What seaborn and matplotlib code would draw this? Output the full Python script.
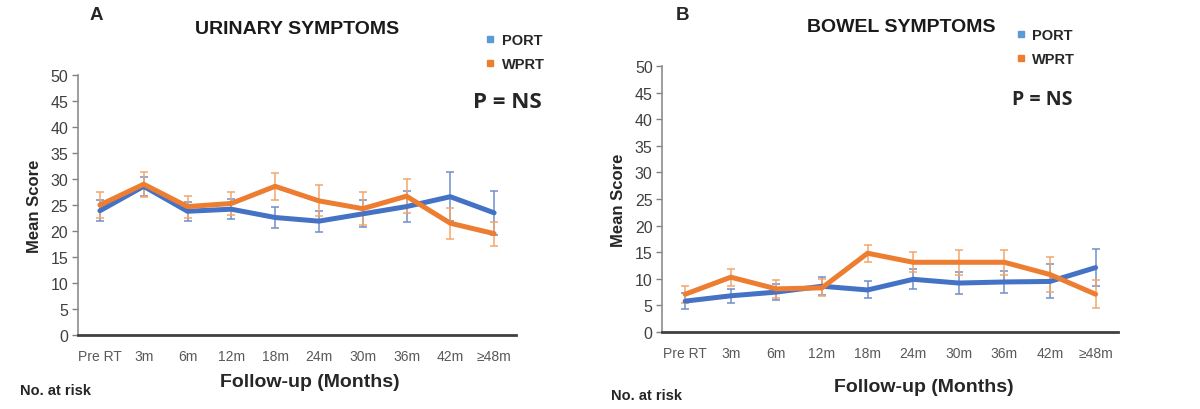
import pandas as pd
import matplotlib.pyplot as plt
import seaborn as sns
import numpy as np
from matplotlib.lines import Line2D
from matplotlib import font_manager

# Categorías del eje x
visits = ['Pre RT', '3m', '6m', '12m', '18m', '24m', '30m', '36m', '42m', '≥48m']

# Síntomas urinarios (media y error)
uri_port = [23.9, 28.6, 23.8, 24.2, 22.6, 21.9, 23.3, 24.7, 26.6, 23.5]
uri_port_err = [2.0, 1.8, 1.8, 1.9, 2.0, 2.0, 2.6, 3.0, 4.7, 4.2]
uri_wprt = [25.0, 29.0, 24.7, 25.3, 28.6, 25.8, 24.3, 26.7, 21.5, 19.5]
uri_wprt_err = [2.5, 2.4, 2.1, 2.2, 2.6, 3.0, 3.2, 3.3, 3.0, 2.3]

# Síntomas intestinales (media y error)
bow_port = [5.8, 6.8, 7.5, 8.6, 7.9, 9.9, 9.2, 9.4, 9.5, 12.1]
bow_port_err = [1.5, 1.3, 1.5, 1.7, 1.6, 1.9, 2.1, 2.1, 3.2, 3.5]
bow_wprt = [7.1, 10.3, 8.1, 8.3, 14.8, 13.1, 13.1, 13.1, 10.8, 7.1]
bow_wprt_err = [1.6, 1.6, 1.7, 1.6, 1.6, 1.9, 2.4, 2.4, 3.3, 2.6]

groups = ['PORT', 'WPRT']
line_colors = {'PORT': '#4472C4', 'WPRT': '#ED7D31'}
err_colors = {'PORT': '#6F8FCB', 'WPRT': '#F2A66C'}
legend_colors = {'PORT': '#5B9BD5', 'WPRT': '#ED7D31'}

sns.set_style('white')
plt.rcParams['font.family'] = ['Liberation Sans', 'DejaVu Sans']

# fuente estrecha para las etiquetas del eje x, si existe
installed = {f.name for f in font_manager.fontManager.ttflist}
narrow = 'Liberation Sans Narrow' if 'Liberation Sans Narrow' in installed else 'Liberation Sans'
xtick_size = 11.5 if narrow == 'Liberation Sans Narrow' else 10

fig = plt.figure(figsize=(12, 4.1), dpi=100)
ax_a = fig.add_axes([0.065, 0.1805, 0.365, 0.634])
ax_b = fig.add_axes([0.552, 0.1878, 0.380, 0.649])


def draw_panel(ax, port, port_err, wprt, wprt_err):
    df = pd.DataFrame({
        'pos': list(range(len(visits))) * 2,
        'score': port + wprt,
        'err': port_err + wprt_err,
        'group': ['PORT'] * len(visits) + ['WPRT'] * len(visits),
    })
    # barras de error primero, debajo de las líneas
    for g in groups:
        sub = df[df['group'] == g]
        ax.errorbar(sub['pos'], sub['score'], yerr=sub['err'], fmt='none',
                    ecolor=err_colors[g], elinewidth=1.1, capsize=3, capthick=1.1,
                    zorder=2)
    sns.lineplot(data=df, x='pos', y='score', hue='group', palette=line_colors,
                 linewidth=3.6, legend=False, ax=ax, zorder=3, sort=False)
    ax.set_xlim(-0.5, len(visits) - 0.5)
    ax.set_ylim(0, 50)
    ax.set_yticks(np.arange(0, 51, 5))
    ax.set_xticks(range(len(visits)))
    ax.set_xticklabels(visits, fontsize=xtick_size, color='#595959', family=narrow)
    ax.tick_params(axis='y', labelsize=11.5, colors='#404040', length=4,
                   width=1, direction='out', left=True, color='#808080', pad=3)
    ax.tick_params(axis='x', length=0, pad=10)
    for s in ['top', 'right']:
        ax.spines[s].set_visible(False)
    ax.spines['left'].set_color('#8c8c8c')
    ax.spines['left'].set_linewidth(1.2)
    ax.spines['bottom'].set_color('#404040')
    ax.spines['bottom'].set_linewidth(2)
    ax.set_xlabel('')
    ax.set_ylabel('Mean Score', fontsize=12, fontweight='bold', labelpad=6)


draw_panel(ax_a, uri_port, uri_port_err, uri_wprt, uri_wprt_err)
draw_panel(ax_b, bow_port, bow_port_err, bow_wprt, bow_wprt_err)

# Títulos y letras de panel
fig.text(0.080, 0.963, 'A', fontsize=13.5, fontweight='bold', ha='center', va='center')
fig.text(0.2475, 0.927, 'URINARY SYMPTOMS', fontsize=14, fontweight='bold',
         ha='center', va='center', color='#1a1a1a')
fig.text(0.569, 0.963, 'B', fontsize=13.5, fontweight='bold', ha='center', va='center')
fig.text(0.751, 0.932, 'BOWEL SYMPTOMS', fontsize=14, fontweight='bold',
         ha='center', va='center', color='#1a1a1a')

# Leyendas
for x_sq, y_top in [(0.405, 0.918), (0.847, 0.93)]:
    handles = [Line2D([0], [0], marker='s', linestyle='none', markersize=5,
                      markerfacecolor=legend_colors[g], markeredgecolor=legend_colors[g])
               for g in groups]
    leg = fig.legend(handles, groups, loc='upper left', bbox_to_anchor=(x_sq, y_top),
                     bbox_transform=fig.transFigure, frameon=False, fontsize=10.5,
                     handlelength=0.6, handletextpad=0.5, labelspacing=0.7,
                     borderpad=0, borderaxespad=0)
    for t in leg.get_texts():
        t.set_fontweight('bold')
        t.set_color('#262626')

# P = NS
fig.text(0.394, 0.749, 'P = NS', fontsize=16, fontweight='bold', family=['Open Sans', 'DejaVu Sans'],
         ha='left', va='center')
fig.text(0.843, 0.756, 'P = NS', fontsize=14, fontweight='bold', family=['Open Sans', 'DejaVu Sans'],
         ha='left', va='center')

# Etiquetas del eje x y "No. at risk"
fig.text(0.258, 0.066, 'Follow-up (Months)', fontsize=14, fontweight='bold',
         ha='center', va='center')
fig.text(0.77, 0.054, 'Follow-up (Months)', fontsize=14, fontweight='bold',
         ha='center', va='center')
fig.text(0.017, 0.047, 'No. at risk', fontsize=10.5, fontweight='bold', ha='left', va='center')
fig.text(0.509, 0.033, 'No. at risk', fontsize=10.5, fontweight='bold', ha='left', va='center')

plt.savefig('out.png', dpi=100)
print("Imagen guardada")
